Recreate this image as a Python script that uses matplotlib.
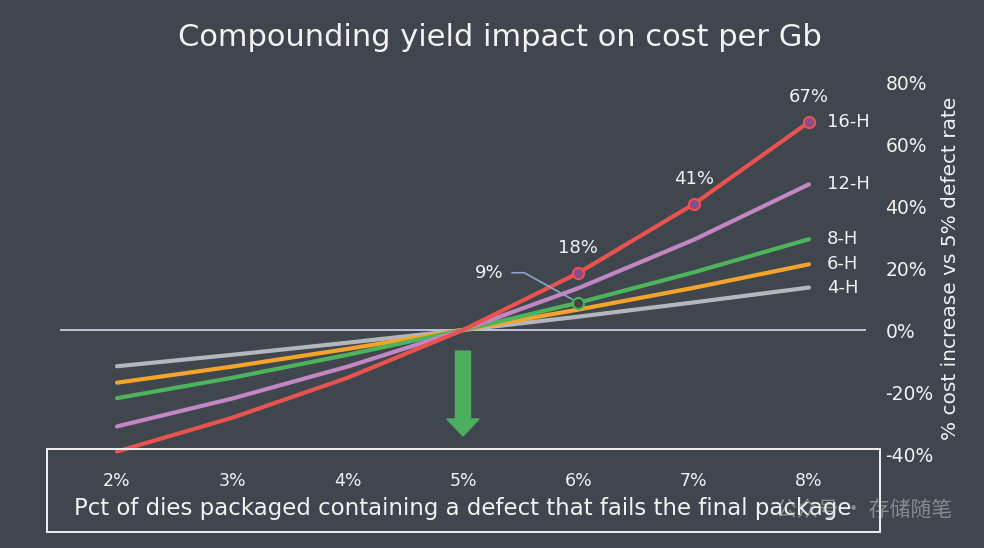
import matplotlib
matplotlib.use('Agg')
import matplotlib.pyplot as plt
from matplotlib.patches import Rectangle

BG = '#40464d'
FG = '#f2f2f2'

defect_pct = [2, 3, 4, 5, 6, 7, 8]
tick_labels = ['2%', '3%', '4%', '5%', '6%', '7%', '8%']
y_ticks = [-40, -20, 0, 20, 40, 60, 80]

h4 = [-11.7, -8.0, -4.1, 0, 4.3, 8.9, 13.7]
h6 = [-17.0, -11.8, -6.1, 0, 6.6, 13.6, 21.2]
h8 = [-22.0, -15.4, -8.0, 0, 8.8, 18.6, 29.3]
h12 = [-31.1, -22.1, -11.8, 0, 13.5, 29.1, 47.0]
h16 = [-39.2, -28.3, -15.4, 0, 18.4, 40.6, 67.1]

series = [('4-H', h4, '#b3b7bc'), ('6-H', h6, '#f5a42b'), ('8-H', h8, '#4db35d'),
          ('12-H', h12, '#c286c2'), ('16-H', h16, '#e9534f')]

# points on 16-H that get a marker and a value label
marked = [(6, '18%'), (7, '41%'), (8, '67%')]

plt.rcParams['font.family'] = ['DejaVu Sans']

fig = plt.figure(figsize=(9.84, 5.48), dpi=100, facecolor=BG)
ax = fig.add_axes([60 / 984, 1 - 454 / 548, 806 / 984, 372 / 548])
ax.set_facecolor(BG)
ax.set_xlim(1.506, 8.494)
ax.set_ylim(-40, 80)

ax.axhline(0, color='#c9cde4', lw=1.3, zorder=1)

for name, vals, col in series:
    ax.plot(defect_pct, vals, color=col, lw=3, solid_capstyle='round', clip_on=False, zorder=3)
    ax.annotate(name, (defect_pct[-1], vals[-1]), xytext=(18, 0), textcoords='offset pixels',
                ha='left', va='center', color=FG, fontsize=13)

for x, lab in marked:
    v = h16[defect_pct.index(x)]
    ax.plot(x, v, 'o', ms=8, mfc='#8a4a8e', mec='#e9534f', mew=1.5, zorder=5)
    ax.annotate(lab, (x, v), xytext=(0, 25), textcoords='offset pixels',
                ha='center', va='center', color=FG, fontsize=13)

v8 = h8[defect_pct.index(6)]
ax.plot(6, v8, 'o', ms=8, mfc='#3d4a42', mec='#4db35d', mew=1.5, zorder=5)
ax.annotate('9%', (6, v8), xytext=(-89, 30), textcoords='offset pixels',
            ha='center', va='center', color=FG, fontsize=13,
            arrowprops=dict(arrowstyle='-', color='#8ea3cc', lw=1.2, shrinkA=4, shrinkB=5,
                            connectionstyle='angle,angleA=0,angleB=-29,rad=0'))

ax.arrow(5, -6.8, 0, -27.4, width=0.13, head_width=0.28, head_length=5.5,
         length_includes_head=True, color='#4caf5f', zorder=4)

ax.set_xticks(defect_pct)
ax.set_xticklabels(tick_labels)
ax.yaxis.tick_right()
ax.set_yticks(y_ticks)
ax.set_yticklabels(['{}%'.format(t) for t in y_ticks])
ax.tick_params(axis='x', length=0, pad=13, colors=FG, labelsize=12.5)
ax.tick_params(axis='y', length=0, pad=14, colors=FG, labelsize=13.5)
for t in ax.get_yticklabels():
    t.set_horizontalalignment('left')
for s in ax.spines.values():
    s.set_visible(False)

ax.yaxis.set_label_position('right')
ax.set_ylabel('% cost increase vs 5% defect rate', color=FG, fontsize=14.5, labelpad=5)

fig.add_artist(Rectangle((47 / 984, 1 - 532 / 548), 833 / 984, 83 / 548, transform=fig.transFigure,
                         fill=False, ec='white', lw=1.3))
fig.text(463 / 984, 1 - 509 / 548, 'Pct of dies packaged containing a defect that fails the final package',
         ha='center', va='center', color=FG, fontsize=16.5)
fig.text(500 / 984, 1 - 38 / 548, 'Compounding yield impact on cost per Gb',
         ha='center', va='center', color=FG, fontsize=22)

# watermark, lies over the axis title just as in the source image
fig.text(952 / 984, 1 - 510 / 548, '公众号 · 存储随笔', ha='right', va='center',
         color='#d0d0d0', alpha=0.5, fontsize=15, family=['Noto Sans CJK SC', 'DejaVu Sans'])

fig.savefig('out.png', dpi=100, facecolor=BG)
